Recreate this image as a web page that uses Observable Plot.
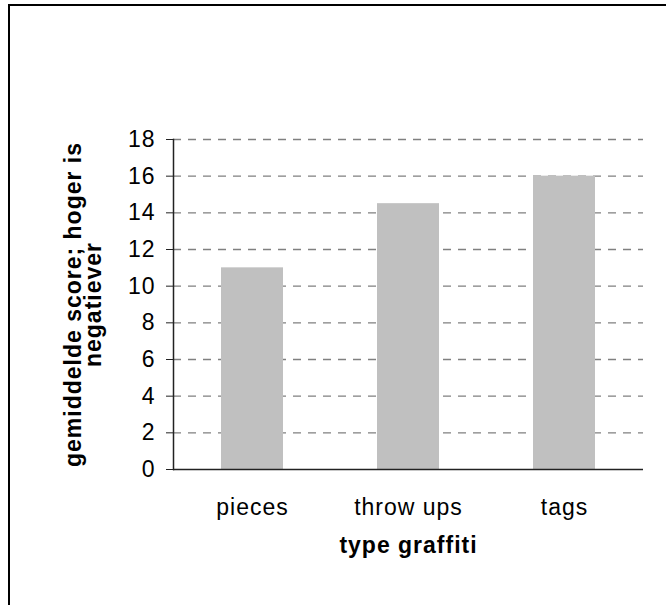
<!DOCTYPE html>
<html>
<head>
<meta charset="utf-8">
<script src="https://cdn.jsdelivr.net/npm/d3@7"></script>
<script src="https://cdn.jsdelivr.net/npm/@observablehq/plot@0.6"></script>
<style>
  html, body { margin: 0; padding: 0; background: #fff; overflow: hidden; }
  #wrap { position: relative; width: 666px; height: 605px; overflow: hidden; }
  #border { position: absolute; left: 8px; top: 4px; width: 700px; height: 700px;
            border: 2px solid #000; pointer-events: none; box-sizing: border-box; }
</style>
</head>
<body>
<div id="wrap"><div id="border"></div></div>
<script>
const categories = ["pieces", "throw ups", "tags"];
const scores = [11, 14.5, 16];
const yTicks = [0, 2, 4, 6, 8, 10, 12, 14, 16, 18];
const yTitle = "gemiddelde score; hoger is\nnegatiever";
const xTitle = "type graffiti";

const data = categories.map((c, i) => ({category: c, score: scores[i]}));

const chart = Plot.plot({
  width: 666,
  height: 605,
  marginLeft: 173,
  marginRight: 23,
  marginTop: 139,
  marginBottom: 136,
  style: {fontFamily: "'Liberation Sans', Arial, sans-serif", fontSize: "23px", color: "#000", background: "transparent", letterSpacing: "1px"},
  x: {domain: categories, paddingInner: 0.6, paddingOuter: 0.3, label: null},
  y: {domain: [0, 18], label: null},
  marks: [
    Plot.ruleY(yTicks.slice(1), {stroke: "#808080", strokeWidth: 1.3, strokeDasharray: "8,7"}),
    Plot.barY(data, {x: "category", y: "score", fill: "#C0C0C0"}),
    Plot.ruleY([0], {stroke: "#222", strokeWidth: 1.5}),
    Plot.frame({anchor: "left", stroke: "#222", strokeWidth: 1.5}),
    Plot.axisY({ticks: yTicks, tickSize: 7, tickPadding: 11, stroke: "#222", fill: "#000", label: null, fontSize: 23}),
    Plot.axisX({tickSize: 0, tickPadding: 29, fill: "#000", label: null, fontSize: 23}),
    Plot.text([xTitle], {frameAnchor: "bottom", dy: 83, fontWeight: "bold", fontSize: 23, fill: "#000"}),
    Plot.text([yTitle], {frameAnchor: "left", textAnchor: "middle", dx: -89, rotate: -90, fontWeight: "bold", fontSize: 23, lineHeight: 0.88, fill: "#000"})
  ]
});
document.getElementById("wrap").prepend(chart);
chart.style.position = "absolute";
chart.style.left = "0";
chart.style.top = "0";
</script>
</body>
</html>
